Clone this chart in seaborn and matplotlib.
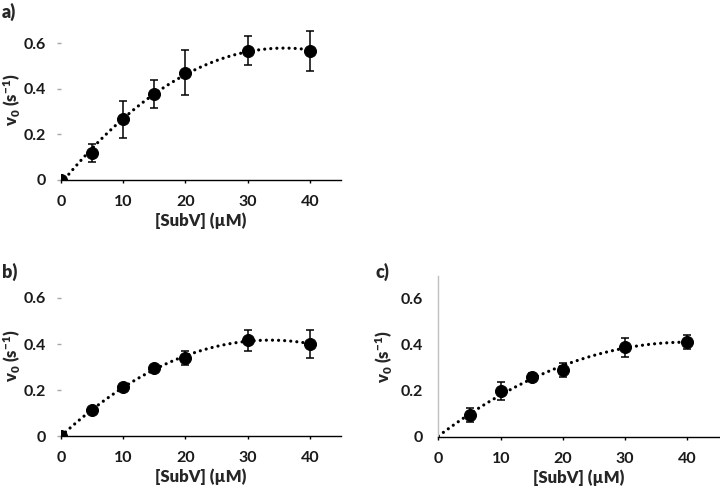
import numpy as np
import pandas as pd
import matplotlib
matplotlib.use("Agg")
import matplotlib.pyplot as plt
from matplotlib import font_manager
import seaborn as sns

# data
subv = [0, 5, 10, 15, 20, 30, 40]
a_v0 = [0, 0.117, 0.266, 0.377, 0.470, 0.566, 0.566]
a_err = [0, 0.040, 0.082, 0.061, 0.099, 0.064, 0.088]
b_v0 = [0, 0.113, 0.211, 0.296, 0.339, 0.417, 0.400]
b_err = [0, 0.008, 0.008, 0.008, 0.032, 0.046, 0.062]
c_subv = [5, 10, 15, 20, 30, 40]
c_v0 = [0.095, 0.200, 0.259, 0.291, 0.389, 0.413]
c_err = [0.030, 0.040, 0.018, 0.030, 0.043, 0.030]

sns.set_style("white")

# pick a calibri-like family that has a bold face
fam = "DejaVu Sans"
for cand in ["Lato", "Open Sans", "Noto Sans", "Liberation Sans"]:
    bolds = [f for f in font_manager.fontManager.ttflist
             if f.name == cand and (f.weight == "bold" or f.weight == 700)]
    if bolds:
        fam = cand
        break
plt.rcParams['font.family'] = [fam, 'DejaVu Sans']
plt.rcParams['mathtext.fontset'] = 'custom'
plt.rcParams['mathtext.rm'] = fam
plt.rcParams['mathtext.bf'] = fam + ':heavy'
plt.rcParams['mathtext.default'] = 'bf'

fig = plt.figure(figsize=(7.2, 4.93), dpi=100)
ax_a = fig.add_axes([0.0847, 0.635, 0.389, 0.324])
ax_b = fig.add_axes([0.0847, 0.1156, 0.389, 0.3266])
ax_c = fig.add_axes([0.609, 0.1136, 0.389, 0.327])


def draw(ax, x, y, err, fit_x, fit_y, yspine, ylab_x):
    df = pd.DataFrame({"x": fit_x, "y": fit_y})
    sns.regplot(data=df, x="x", y="y", order=2, ci=None, scatter=False, truncate=True,
                line_kws=dict(color="black", lw=2.3, ls=(0, (0.01, 1.9)),
                              dash_capstyle="round"), ax=ax)
    ax.errorbar(x, y, yerr=err, fmt="none", ecolor="black", elinewidth=1.1,
                capsize=2.8, capthick=1.1, zorder=3)
    sns.scatterplot(x=x, y=y, color="black", s=75, edgecolor="black", zorder=4, ax=ax)
    ax.set_xlim(0, 45)
    ax.set_ylim(0, 0.7)
    ax.set_xticks([0, 10, 20, 30, 40])
    ax.set_yticks([0, 0.2, 0.4, 0.6])
    ax.set_yticklabels(["0", "0.2", "0.4", "0.6"])
    for s in ["top", "right"]:
        ax.spines[s].set_visible(False)
    ax.spines["bottom"].set_color("black")
    ax.spines["bottom"].set_linewidth(1.0)
    if yspine:
        ax.spines["left"].set_color("#bfbfbf")
        ax.spines["left"].set_linewidth(1.0)
        ax.tick_params(axis="y", length=0, pad=11)
    else:
        ax.spines["left"].set_visible(False)
        ax.tick_params(axis="y", length=3, color="#a6a6a6", width=1, pad=8, left=True)
    ax.tick_params(axis="x", length=2.5, width=1, color="black", direction="out", pad=8, bottom=True)
    ax.tick_params(labelsize=11.5, labelcolor="#1a1a1a")
    for t in ax.get_xticklabels() + ax.get_yticklabels():
        t.set_fontweight("bold")
    ax.set_xlabel("[SubV] (\u00b5M)", fontsize=12, fontweight="heavy", labelpad=3)
    ax.set_ylabel("v$_0$ (s$^{-1}$)", fontsize=12, fontweight="heavy")
    ax.yaxis.set_label_coords(ylab_x, 0.5)


draw(ax_a, subv, a_v0, a_err, subv, a_v0, False, -0.135)
draw(ax_b, subv, b_v0, b_err, subv, b_v0, False, -0.135)
draw(ax_c, c_subv, c_v0, c_err, [0] + c_subv, [0] + c_v0, True, -0.155)

fig.text(0.003, 0.975, "a)", fontsize=13, fontweight="heavy", va="center")
fig.text(0.003, 0.448, "b)", fontsize=13, fontweight="heavy", va="center")
fig.text(0.522, 0.448, "c)", fontsize=13, fontweight="heavy", va="center")

fig.savefig("out.png", dpi=100)
